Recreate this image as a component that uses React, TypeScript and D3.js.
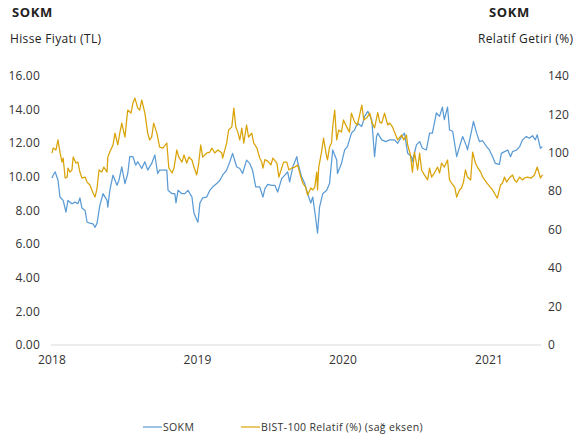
import React from "react";
import * as d3 from "d3";

const yearTicks = ["2018-01-01", "2019-01-01", "2020-01-01", "2021-01-01"];
const leftTicks = [0, 2, 4, 6, 8, 10, 12, 14, 16];
const rightTicks = [0, 20, 40, 60, 80, 100, 120, 140];

const sokmDates = [
  "2018-01-01","2018-01-04","2018-01-09","2018-01-16","2018-01-21","2018-01-29","2018-02-05","2018-02-10","2018-02-20","2018-02-28",
  "2018-03-07","2018-03-12","2018-03-17","2018-03-25","2018-03-30","2018-04-06","2018-04-14","2018-04-19","2018-04-24","2018-05-01",
  "2018-05-09","2018-05-19","2018-05-21","2018-05-26","2018-06-03","2018-06-13","2018-06-18","2018-06-25","2018-07-03","2018-07-10",
  "2018-07-15","2018-07-23","2018-07-30","2018-08-04","2018-08-14","2018-08-22","2018-08-29","2018-09-08","2018-09-16","2018-09-23",
  "2018-09-28","2018-10-09","2018-10-16","2018-10-19","2018-10-29","2018-11-05","2018-11-08","2018-11-13","2018-11-23","2018-11-30",
  "2018-12-08","2018-12-18","2018-12-23","2018-12-30","2019-01-02","2019-01-07","2019-01-14","2019-01-24","2019-02-01","2019-02-08",
  "2019-02-18","2019-02-26","2019-03-05","2019-03-15","2019-03-23","2019-03-30","2019-04-09","2019-04-17","2019-04-24","2019-05-04",
  "2019-05-12","2019-05-19","2019-05-27","2019-06-06","2019-06-14","2019-06-19","2019-06-26","2019-07-06","2019-07-14","2019-07-21",
  "2019-07-31","2019-08-08","2019-08-15","2019-08-20","2019-08-28","2019-09-07","2019-09-09","2019-09-19","2019-09-27","2019-10-04",
  "2019-10-12","2019-10-17","2019-10-24","2019-10-29","2019-11-03","2019-11-11","2019-11-21","2019-11-28","2019-12-06","2019-12-16",
  "2019-12-18","2019-12-28","2020-01-05","2020-01-12","2020-01-22","2020-01-30","2020-02-06","2020-02-17","2020-02-24","2020-03-03",
  "2020-03-13","2020-03-20","2020-03-25","2020-03-28","2020-04-07","2020-04-17","2020-04-27","2020-05-09","2020-05-17","2020-05-27",
  "2020-06-03","2020-06-11","2020-06-21","2020-06-23","2020-07-03","2020-07-11","2020-07-18","2020-07-28","2020-08-05","2020-08-12",
  "2020-08-22","2020-08-30","2020-09-06","2020-09-11","2020-09-19","2020-09-24","2020-10-02","2020-10-12","2020-10-19","2020-10-27",
  "2020-11-06","2020-11-08","2020-11-18","2020-11-23","2020-12-01","2020-12-08","2020-12-16","2020-12-26","2021-01-02","2021-01-10",
  "2021-01-17","2021-01-27","2021-02-01","2021-02-09","2021-02-17","2021-02-24","2021-03-01","2021-03-11","2021-03-19","2021-03-26",
  "2021-04-05","2021-04-12","2021-04-20","2021-04-27","2021-05-02","2021-05-10","2021-05-15"
];
const sokmValues = [
  9.93,10.1,10.3,9.8,8.8,8.6,7.9,8.6,8.4,8.5,
  8.4,8.75,8.15,8.0,7.3,7.25,7.2,7.0,7.25,8.3,
  9.0,8.6,8.2,9.2,10.1,9.5,9.8,10.6,9.6,10.2,
  11.2,11.2,10.7,10.9,10.5,10.9,10.4,10.8,11.3,10.2,
  10.4,10.4,10.4,9.2,9.0,9.0,8.45,9.2,9.0,9.0,
  9.2,8.8,7.85,7.45,7.3,8.45,8.75,8.8,9.2,9.4,
  9.6,9.8,10.1,10.4,10.9,11.4,10.6,10.5,10.2,11.0,
  10.8,10.4,9.4,9.4,8.8,9.3,9.55,9.5,9.5,9.1,
  9.9,10.1,10.3,9.7,10.6,11.2,10.9,10.0,9.6,9.0,
  8.45,8.8,7.6,6.65,8.2,9.0,9.2,9.6,11.6,11.0,
  10.2,10.8,11.6,11.8,12.6,12.8,13.2,13.0,13.6,13.9,
  13.4,11.2,12.4,12.6,12.2,12.1,12.2,12.2,12.0,12.4,
  12.6,11.4,11.2,10.9,11.9,12.1,11.7,11.6,12.6,12.6,
  13.8,13.6,14.15,13.4,14.15,12.8,12.7,11.2,11.8,12.4,
  11.8,11.6,12.7,13.3,12.6,12.1,12.15,11.8,11.6,11.2,
  10.8,10.75,11.4,11.5,11.6,11.2,11.5,11.6,11.8,12.2,
  12.4,12.3,12.45,12.2,12.5,11.7,11.8
];

const relDates = [
  "2018-01-01","2018-01-04","2018-01-11","2018-01-16","2018-01-21","2018-01-26","2018-01-29","2018-02-03","2018-02-08","2018-02-10",
  "2018-02-15","2018-02-20","2018-02-23","2018-03-02","2018-03-07","2018-03-12","2018-03-17","2018-03-25","2018-03-30","2018-04-06",
  "2018-04-11","2018-04-14","2018-04-19","2018-04-24","2018-04-29","2018-05-06","2018-05-11","2018-05-19","2018-05-21","2018-05-26",
  "2018-06-03","2018-06-08","2018-06-15","2018-06-20","2018-06-25","2018-07-03","2018-07-08","2018-07-10","2018-07-18","2018-07-23",
  "2018-07-28","2018-08-04","2018-08-09","2018-08-14","2018-08-22","2018-08-29","2018-09-03","2018-09-08","2018-09-13","2018-09-21",
  "2018-09-28","2018-10-06","2018-10-16","2018-10-21","2018-10-29","2018-11-03","2018-11-10","2018-11-15","2018-11-23","2018-11-28",
  "2018-12-05","2018-12-10","2018-12-18","2018-12-23","2018-12-30","2019-01-04","2019-01-09","2019-01-14","2019-01-24","2019-02-01",
  "2019-02-06","2019-02-13","2019-02-21","2019-03-03","2019-03-05","2019-03-15","2019-03-20","2019-03-28","2019-04-02","2019-04-07",
  "2019-04-12","2019-04-17","2019-04-22","2019-04-27","2019-05-04","2019-05-09","2019-05-17","2019-05-22","2019-05-30","2019-06-06",
  "2019-06-11","2019-06-14","2019-06-19","2019-06-26","2019-07-04","2019-07-09","2019-07-19","2019-07-24","2019-07-31","2019-08-05",
  "2019-08-13","2019-08-18","2019-08-25","2019-09-02","2019-09-09","2019-09-17","2019-09-22","2019-09-29","2019-10-04","2019-10-12",
  "2019-10-17","2019-10-22","2019-10-27","2019-10-29","2019-11-01","2019-11-08","2019-11-13","2019-11-21","2019-11-23","2019-11-28",
  "2019-12-03","2019-12-06","2019-12-11","2019-12-16","2019-12-21","2019-12-28","2020-01-02","2020-01-10","2020-01-17","2020-01-22",
  "2020-01-30","2020-02-06","2020-02-17","2020-02-22","2020-02-29","2020-03-08","2020-03-13","2020-03-20","2020-03-28","2020-04-02",
  "2020-04-07","2020-04-14","2020-04-22","2020-04-27","2020-05-04","2020-05-12","2020-05-17","2020-05-27","2020-06-01","2020-06-08",
  "2020-06-11","2020-06-18","2020-06-23","2020-06-28","2020-07-06","2020-07-11","2020-07-16","2020-07-23","2020-07-31","2020-08-05",
  "2020-08-10","2020-08-17","2020-08-25","2020-08-30","2020-09-04","2020-09-11","2020-09-19","2020-09-24","2020-09-29","2020-10-07",
  "2020-10-12","2020-10-19","2020-10-24","2020-10-29","2020-11-03","2020-11-08","2020-11-16","2020-11-21","2020-11-28","2020-12-03",
  "2020-12-11","2020-12-16","2020-12-26","2021-01-02","2021-01-10","2021-01-20","2021-01-22","2021-01-30","2021-02-04","2021-02-09",
  "2021-02-14","2021-02-21","2021-03-01","2021-03-06","2021-03-11","2021-03-19","2021-03-26","2021-03-31","2021-04-07","2021-04-17",
  "2021-04-25","2021-05-02","2021-05-10","2021-05-15"
];
const relValues = [
  99.9,102.5,101.5,106.7,100.4,95.2,97.3,86.9,87.4,92.1,
  90.0,91.1,97.8,94.7,95.2,90.0,86.9,87.4,84.8,83.3,
  80.7,79.1,77.0,81.7,91.1,90.0,92.6,90.0,97.8,100.4,
  104.1,110.3,104.1,110.3,115.5,108.2,118.6,122.3,120.7,125.9,
  128.5,123.3,122.3,127.5,120.7,110.3,106.7,108.2,115.5,110.3,
  103.0,102.5,105.1,92.1,89.5,92.1,101.5,97.8,95.2,98.9,
  94.7,97.8,96.3,92.6,88.5,94.7,104.1,97.8,99.9,100.4,
  102.5,99.9,101.5,99.9,97.3,105.1,111.9,113.5,123.3,113.5,
  110.8,106.7,112.9,105.1,114.5,108.2,110.3,105.1,102.5,97.3,
  95.2,92.1,96.5,95.7,93.7,97.3,94.7,87.4,92.1,95.2,
  95.2,91.1,92.1,92.6,93.7,87.4,84.3,82.2,78.1,81.7,
  80.7,82.2,90.0,80.7,92.6,100.4,107.7,97.8,96.3,103.0,
  105.1,113.5,122.3,106.7,111.9,110.8,117.1,113.5,110.8,120.7,
  116.0,114.5,124.9,117.1,118.1,120.7,116.0,113.0,121.0,116.0,
  115.5,120.7,114.5,115.5,113.5,109.3,106.7,109.3,106.7,109.3,
  104.1,98.9,90.0,100.4,91.1,99.9,91.1,88.5,85.9,92.1,
  87.4,89.5,92.6,89.5,94.7,92.6,96.3,85.9,84.3,82.2,
  77.0,80.7,81.7,84.8,91.1,87.4,85.9,100.4,94.7,92.6,
  90.0,87.5,84.5,82.7,80.7,77.0,76.5,83.3,84.3,87.4,
  84.8,86.9,88.5,85.9,84.8,87.4,85.9,86.9,87.4,86.9,
  88.5,92.6,86.9,88.5
];

const parse = d3.timeParse("%Y-%m-%d");
const FONT = "'Open Sans', 'DejaVu Sans', sans-serif";
const BLUE = "#5b9bd5";
const GOLD = "#d9a307";

export default function App() {
  const W = 573, H = 438;
  const x = d3.scaleTime()
    .domain([parse("2018-01-01")!, parse("2021-01-01")!])
    .range([52, 489]);
  const yL = d3.scaleLinear().domain([0, 16]).range([345, 76]);
  const yR = d3.scaleLinear().domain([0, 140]).range([345, 76]);

  const sokm = sokmDates.map((d, i) => ({ t: parse(d)!, v: sokmValues[i] }));
  const rel = relDates.map((d, i) => ({ t: parse(d)!, v: relValues[i] }));

  const lineL = d3.line<{ t: Date; v: number }>().x(d => x(d.t)).y(d => yL(d.v));
  const lineR = d3.line<{ t: Date; v: number }>().x(d => x(d.t)).y(d => yR(d.v));

  const fmt = d3.format(".2f");

  return (
    <svg width={W} height={H} style={{ position: "absolute", left: 0, top: 0, background: "#fff" }} fontFamily={FONT}>
      <text x={12} y={17} fontSize={13} fontWeight={700} letterSpacing={0.6} fill="#222">SOKM</text>
      <text x={10} y={43} fontSize={12} letterSpacing={0.35} fill="#222">Hisse Fiyatı (TL)</text>
      <text x={489} y={17} fontSize={13} fontWeight={700} letterSpacing={0.6} fill="#222">SOKM</text>
      <text x={478} y={43} fontSize={12} letterSpacing={0.35} fill="#222">Relatif Getiri (%)</text>

      <line x1={51} x2={541} y1={yL(0)} y2={yL(0)} stroke="#d9d9d9" strokeWidth={1} />

      {leftTicks.map(t => (
        <text key={"l" + t} x={40} y={yL(t)} dy="0.35em" textAnchor="end" fontSize={12} letterSpacing={0.2} fill="#333">{fmt(t)}</text>
      ))}
      {rightTicks.map(t => (
        <text key={"r" + t} x={548} y={yR(t)} dy="0.35em" textAnchor="start" fontSize={12} letterSpacing={0.2} fill="#333">{t}</text>
      ))}
      {yearTicks.map(t => (
        <text key={t} x={x(parse(t)!)} y={364} textAnchor="middle" fontSize={12} letterSpacing={0.2} fill="#333">{t.slice(0, 4)}</text>
      ))}

      <path d={lineL(sokm) ?? ""} fill="none" stroke={BLUE} strokeWidth={1.25} strokeLinejoin="round" />
      <path d={lineR(rel) ?? ""} fill="none" stroke={GOLD} strokeWidth={1.25} strokeLinejoin="round" />

      <line x1={143} x2={162} y1={427} y2={427} stroke={BLUE} strokeWidth={1.2} />
      <text x={163} y={427} dy="0.35em" fontSize={10.5} letterSpacing={0.35} fill="#333">SOKM</text>
      <line x1={241} x2={260} y1={427} y2={427} stroke={GOLD} strokeWidth={1.2} />
      <text x={261} y={427} dy="0.35em" fontSize={10.5} letterSpacing={0.35} fill="#333">BIST-100 Relatif (%) (sağ eksen)</text>
    </svg>
  );
}
